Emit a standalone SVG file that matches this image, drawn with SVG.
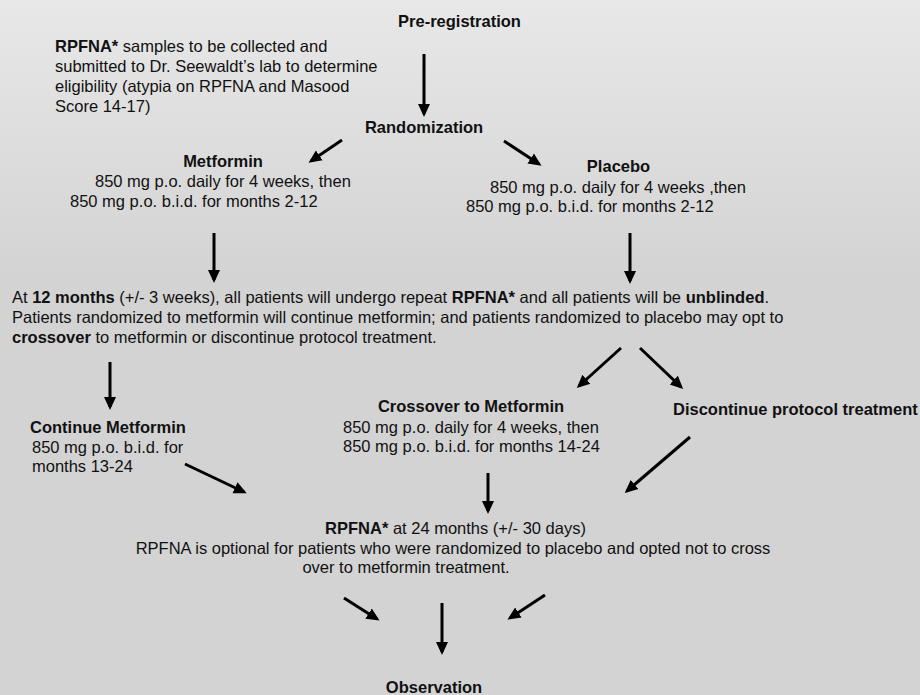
<svg xmlns="http://www.w3.org/2000/svg" width="920" height="695" viewBox="0 0 920 695">
<defs>
<linearGradient id="bg" gradientUnits="userSpaceOnUse" x1="0" y1="0" x2="0" y2="280">
<stop offset="0" stop-color="#e8e8e8"/>
<stop offset="1" stop-color="#d3d3d3"/>
</linearGradient>
<marker id="ah" markerUnits="userSpaceOnUse" markerWidth="14" markerHeight="14" viewBox="0 0 14 14" refX="10" refY="7" orient="auto">
<path d="M0,1 L13,7 L0,13 Z" fill="#000"/>
</marker>
</defs>
<style>
text{font-family:"Liberation Sans",Arial,sans-serif;font-size:16.5px;fill:#111}
.b{font-weight:bold}
.c{text-anchor:middle}
.arr{stroke:#000;stroke-width:3;fill:none;marker-end:url(#ah)}
</style>
<rect width="920" height="695" fill="url(#bg)"/>
<g id="connectors">
<line class="arr" x1="424" y1="54" x2="424" y2="114"/>
<line class="arr" x1="342" y1="140" x2="311" y2="161"/>
<line class="arr" x1="504" y1="141" x2="539" y2="164"/>
<line class="arr" x1="214" y1="233" x2="214" y2="280"/>
<line class="arr" x1="630" y1="233" x2="630" y2="281"/>
<line class="arr" x1="110" y1="362" x2="110" y2="407"/>
<line class="arr" x1="621" y1="348" x2="579" y2="386"/>
<line class="arr" x1="640" y1="348" x2="681" y2="387"/>
<line class="arr" x1="185" y1="464" x2="244" y2="492"/>
<line class="arr" x1="690" y1="437" x2="627" y2="491"/>
<line class="arr" x1="488" y1="473" x2="488" y2="511"/>
<line class="arr" x1="344" y1="598" x2="377" y2="619"/>
<line class="arr" x1="442" y1="603" x2="442" y2="652"/>
<line class="arr" x1="545" y1="595" x2="510" y2="618"/>
</g>
<g id="pre-registration"><text class="b c" x="459.5" y="27">Pre-registration</text></g>
<g id="rpfna-note">
<text x="55" y="52"><tspan class="b">RPFNA*</tspan> samples to be collected and</text>
<text x="55" y="72">submitted to Dr. Seewaldt’s lab to determine</text>
<text x="55" y="92">eligibility (atypia on RPFNA and Masood</text>
<text x="55" y="112">Score 14-17)</text>
</g>
<g id="randomization"><text class="b c" x="424" y="133">Randomization</text></g>
<g id="metformin">
<text class="b c" x="223" y="167">Metformin</text>
<text x="95" y="187">850 mg p.o. daily for 4 weeks, then</text>
<text x="70" y="207">850 mg p.o. b.i.d. for months 2-12</text>
</g>
<g id="placebo">
<text class="b c" x="618.5" y="172">Placebo</text>
<text x="490" y="193">850 mg p.o. daily for 4 weeks ,then</text>
<text x="466" y="212">850 mg p.o. b.i.d. for months 2-12</text>
</g>
<g id="twelve-months">
<text x="12" y="303">At <tspan class="b">12 months</tspan> (+/- 3 weeks), all patients will undergo repeat <tspan class="b">RPFNA*</tspan> and all patients will be <tspan class="b">unblinded</tspan>.</text>
<text x="12" y="323">Patients randomized to metformin will continue metformin; and patients randomized to placebo may opt to</text>
<text x="12" y="343"><tspan class="b">crossover</tspan> to metformin or discontinue protocol treatment.</text>
</g>
<g id="continue-metformin">
<text class="b" x="30" y="433">Continue Metformin</text>
<text x="32" y="453">850 mg p.o. b.i.d. for</text>
<text x="32" y="472">months 13-24</text>
</g>
<g id="crossover">
<text class="b c" x="471" y="412">Crossover to Metformin</text>
<text x="343" y="433">850 mg p.o. daily for 4 weeks, then</text>
<text x="343" y="452">850 mg p.o. b.i.d. for months 14-24</text>
</g>
<g id="discontinue"><text class="b" x="673" y="415">Discontinue protocol treatment</text></g>
<g id="rpfna-24">
<text class="c" x="455.5" y="534"><tspan class="b">RPFNA*</tspan> at 24 months (+/- 30 days)</text>
<text class="c" x="453" y="554">RPFNA is optional for patients who were randomized to placebo and opted not to cross</text>
<text class="c" x="406" y="573">over to metformin treatment.</text>
</g>
<g id="observation"><text class="b c" x="434" y="693">Observation</text></g>
</svg>
